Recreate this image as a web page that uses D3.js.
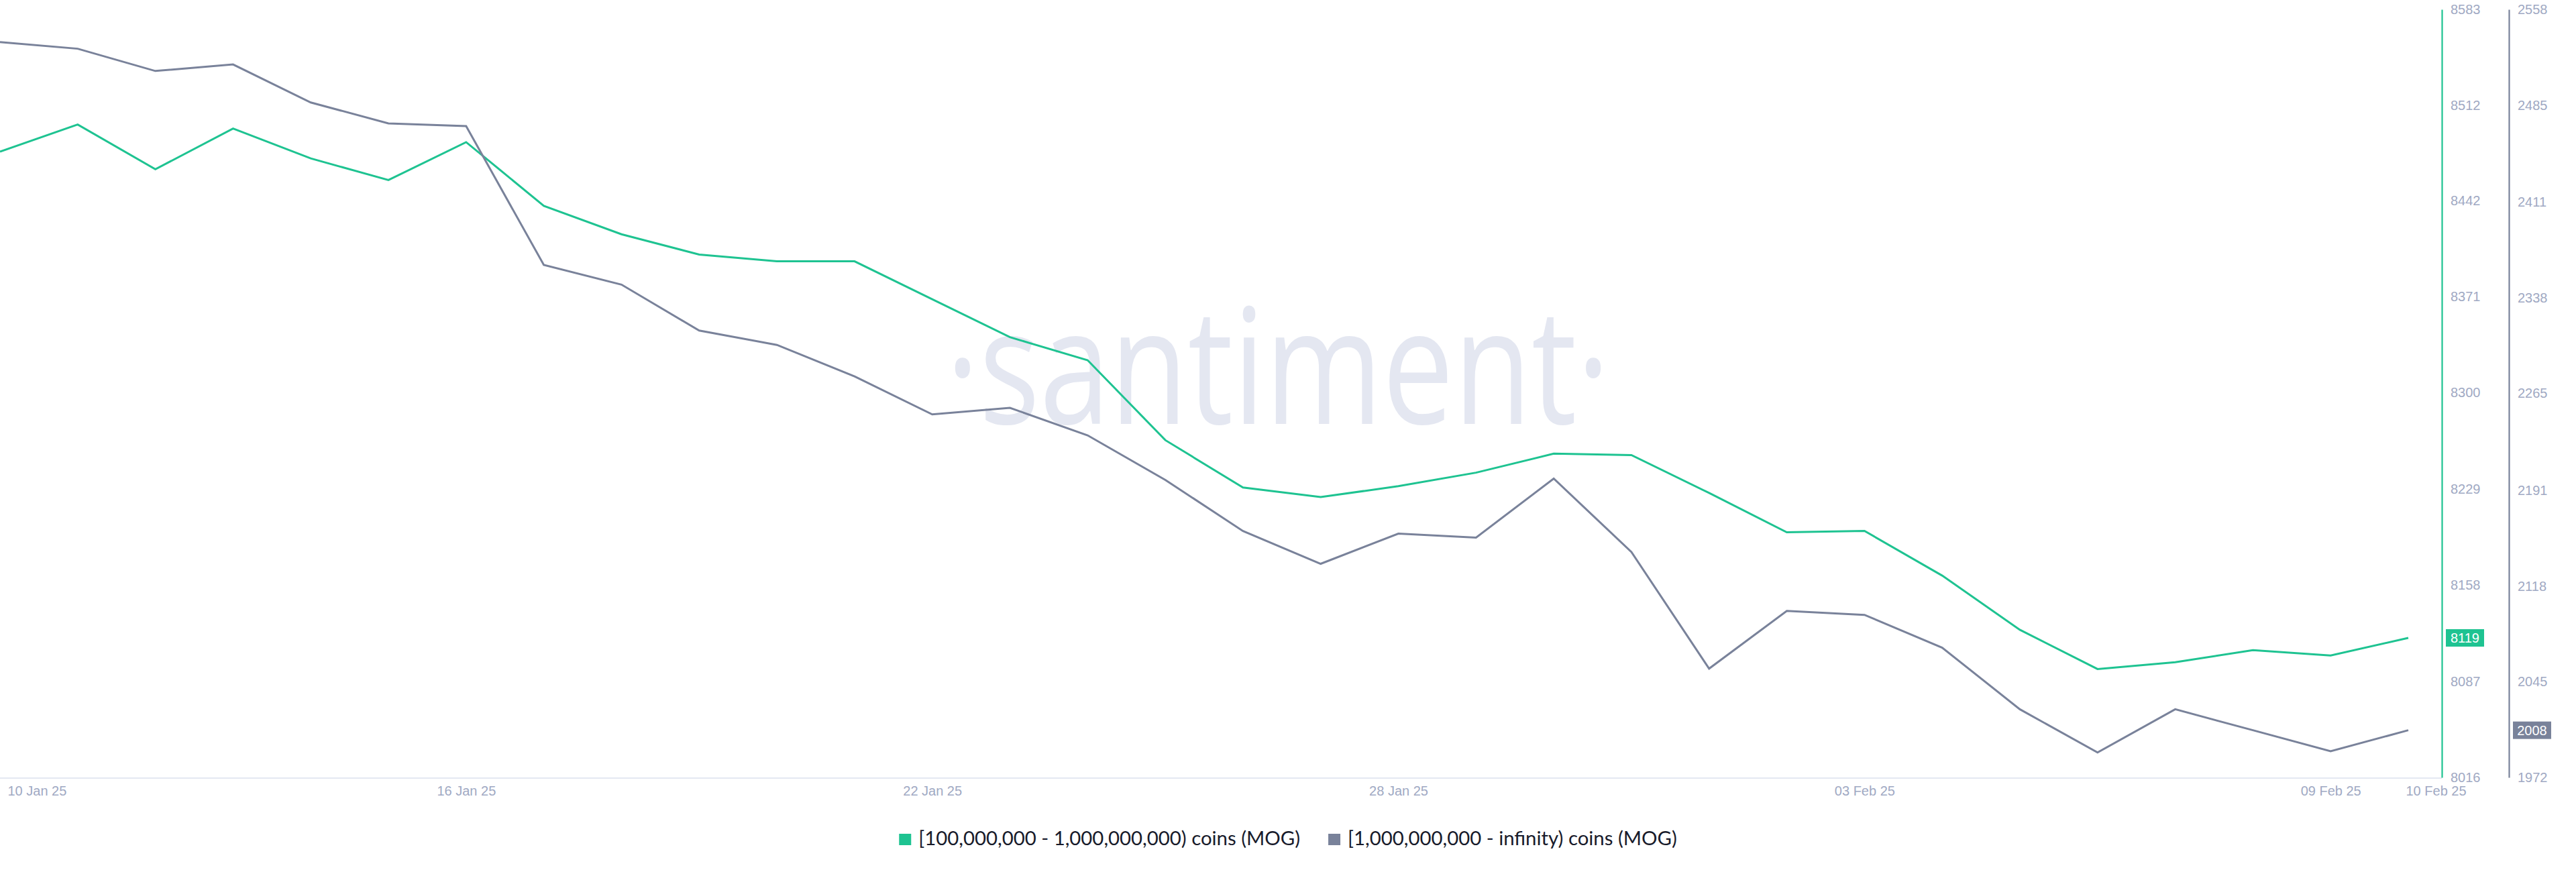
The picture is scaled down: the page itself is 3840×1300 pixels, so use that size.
<!DOCTYPE html>
<html><head><meta charset="utf-8">
<script src="https://cdn.jsdelivr.net/npm/d3@7/dist/d3.min.js"></script>
<style>html,body{margin:0;padding:0;background:#fff;} svg{display:block;}</style>
</head><body>
<svg id="chart" width="3840" height="1300"></svg>
<script>
// ---------- data ----------
const dates = ["2025-01-10","2025-01-11","2025-01-12","2025-01-13","2025-01-14","2025-01-15","2025-01-16","2025-01-17",
  "2025-01-18","2025-01-19","2025-01-20","2025-01-21","2025-01-22","2025-01-23","2025-01-24","2025-01-25",
  "2025-01-26","2025-01-27","2025-01-28","2025-01-29","2025-01-30","2025-01-31","2025-02-01","2025-02-02",
  "2025-02-03","2025-02-04","2025-02-05","2025-02-06","2025-02-07","2025-02-08","2025-02-09","2025-02-10"];
const greenValues = [8478,8498,8465,8495,8473,8457,8485,8438,8417,8402,8397,8397,8369,8341,8324,8265,
  8230,8223,8231,8241,8255,8254,8226,8197,8198,8165,8125,8096,8101,8110,8106,8119];
const grayValues = [2533,2528,2511,2516,2487,2471,2469,2363,2348,2313,2302,2278,2249,2254,2233,2199,
  2160,2135,2158,2155,2200,2144,2055,2099,2096,2071,2024,1991,2024,2008,1992,2008];
const greenTicks = [8583,8512,8442,8371,8300,8229,8158,8087,8016];
const grayTicks = [2558,2485,2411,2338,2265,2191,2118,2045,1972];
const xTickDates = ["2025-01-10","2025-01-16","2025-01-22","2025-01-28","2025-02-03","2025-02-09","2025-02-10"];
const xTickLabels = ["10 Jan 25","16 Jan 25","22 Jan 25","28 Jan 25","03 Feb 25","09 Feb 25","10 Feb 25"];
const seriesNames = ["[100,000,000 - 1,000,000,000) coins (MOG)","[1,000,000,000 - infinity) coins (MOG)"];
const seriesColors = ["#1ec391","#79829a"];
const watermarkText = "\u00B7santiment\u00B7";

// ---------- setup ----------
const parse = d3.utcParse("%Y-%m-%d");
const D = dates.map(parse);
const svg = d3.select("#chart");
const tickColor = "#a0a9c3";
const tickFont = "'Liberation Sans', Arial, Helvetica, sans-serif";

const x = d3.scaleUtc().domain([D[0], D[D.length-1]]).range([0, 3590]);
const yG = d3.scaleLinear().domain([8016, 8583]).range([1159, 14]);
const yR = d3.scaleLinear().domain([1972, 2558]).range([1159, 14]);
const axisGX = 3640, axisRX = 3740;

// watermark
svg.append("text")
  .attr("x", 1905).attr("y", 632)
  .attr("text-anchor", "middle")
  .attr("font-family", "'Open Sans', 'Noto Sans', sans-serif")
  .attr("font-size", 240)
  .attr("fill", "#e4e7f1")
  .attr("textLength", 990)
  .attr("lengthAdjust", "spacingAndGlyphs")
  .text(watermarkText);

// x axis baseline
svg.append("line")
  .attr("x1", 0).attr("x2", axisGX).attr("y1", 1160).attr("y2", 1160)
  .attr("stroke", "#e4e8f2").attr("stroke-width", 2);

// x axis labels
const xAxis = d3.axisBottom(x)
  .tickValues(xTickDates.map(parse))
  .tickSize(0).tickPadding(0)
  .tickFormat((d, i) => xTickLabels[i]);
const gx = svg.append("g").attr("transform", "translate(0,1160)").call(xAxis);
gx.select(".domain").remove();
gx.selectAll("text")
  .attr("dy", null).attr("y", 26)
  .attr("font-family", tickFont).attr("font-size", 20).attr("fill", tickColor)
  .attr("text-anchor", (d, i) => (i === 0 || i === xTickLabels.length - 1) ? "start" : "middle")
  .attr("x", (d, i) => i === 0 ? 11 : (i === xTickLabels.length - 1 ? -4 : 0));

// right axes
function rightAxis(scale, ticks, xpos, color) {
  const g = svg.append("g").attr("transform", `translate(${xpos},0)`)
    .call(d3.axisRight(scale).tickValues(ticks).tickSize(0).tickSizeOuter(0).tickPadding(13).tickFormat(d3.format("d")));
  g.select(".domain").attr("stroke", color).attr("stroke-width", 2.2);
  g.selectAll("text").attr("font-family", tickFont).attr("font-size", 20).attr("fill", tickColor);
  return g;
}
rightAxis(yG, greenTicks, axisGX, seriesColors[0]);
rightAxis(yR, grayTicks, axisRX, seriesColors[1]);

// lines
const lineG = d3.line().x((d, i) => x(D[i])).y(d => yG(d));
const lineR = d3.line().x((d, i) => x(D[i])).y(d => yR(d));
svg.append("path").datum(greenValues).attr("d", lineG)
  .attr("fill", "none").attr("stroke", seriesColors[0]).attr("stroke-width", 3);
svg.append("path").datum(grayValues).attr("d", lineR)
  .attr("fill", "none").attr("stroke", seriesColors[1]).attr("stroke-width", 3);

// last value badges
function badge(scale, value, xpos, color) {
  const cy = scale(value);
  svg.append("rect").attr("x", xpos + 6).attr("y", cy - 13).attr("width", 57).attr("height", 26).attr("fill", color);
  svg.append("text").attr("x", xpos + 6 + 28.5).attr("y", cy).attr("dy", "0.35em")
    .attr("text-anchor", "middle").attr("font-family", tickFont).attr("font-size", 20).attr("fill", "#fff")
    .text(d3.format("d")(value));
}
badge(yG, greenValues[greenValues.length - 1], axisGX, seriesColors[0]);
badge(yR, grayValues[grayValues.length - 1], axisRX, seriesColors[1]);

// legend
const legend = svg.append("g");
const legFont = "Lato, 'Open Sans', sans-serif";
let cursor = 0;
const items = seriesNames.map((name, i) => {
  const g = legend.append("g");
  g.append("rect").attr("x", 0).attr("y", 1243).attr("width", 18).attr("height", 17).attr("fill", seriesColors[i]);
  const t = g.append("text").attr("x", 29).attr("y", 1260)
    .attr("font-family", legFont).attr("font-size", 24).attr("fill", "#181b2b").text(name);
  return {g, t};
});
// fit font so first label is ~569px wide
const w0 = items[0].t.node().getComputedTextLength();
const fs = 24 * 569 / w0;
items.forEach(it => it.t.attr("font-size", fs));
items.forEach((it, i) => {
  it.g.attr("transform", `translate(${cursor},0)`);
  cursor += 29 + it.t.node().getComputedTextLength() + (i < items.length - 1 ? 42 : 0);
});
legend.attr("transform", `translate(${1920 - cursor / 2},0)`);
</script>
</body></html>
